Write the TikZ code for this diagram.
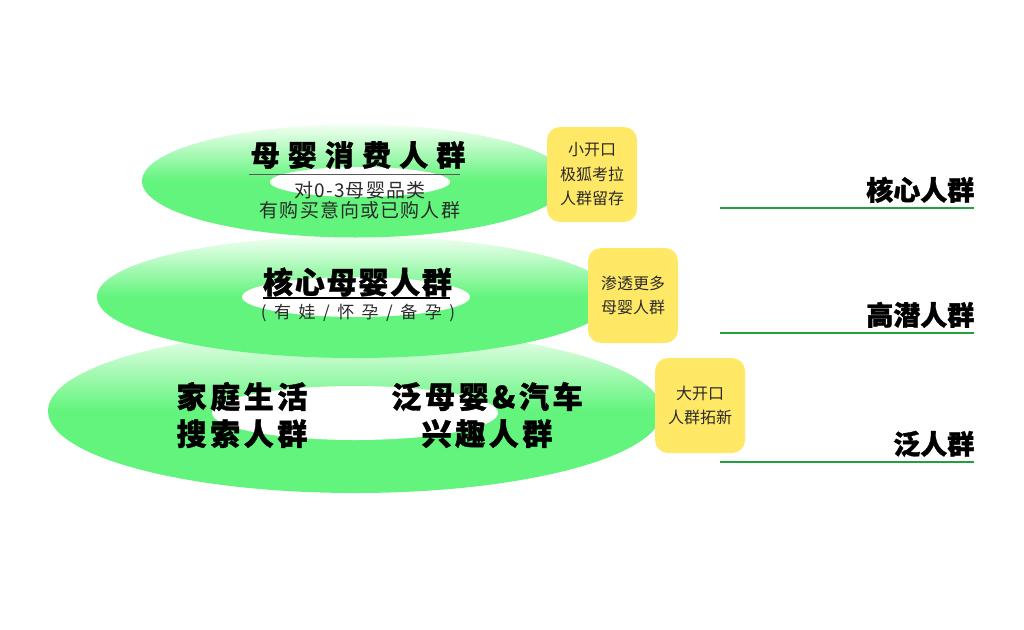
\documentclass[tikz,border=0pt]{standalone}
\usepackage{fontspec}
\setmainfont{Noto Sans CJK SC}
\usepackage{xcolor}
\usepackage{tikz}
\usetikzlibrary{shapes.geometric, positioning, calc}

\definecolor{ringgreen}{HTML}{62F47C}
\definecolor{ringpale}{HTML}{F2FFF2}
\definecolor{padyellow}{HTML}{FFE866}
\definecolor{linegreen}{HTML}{21A03F}
\definecolor{inkgray}{HTML}{2A2A2A}

\begin{document}
\begin{tikzpicture}[
    x=1pt, y=-1pt,
    ring/.style={ellipse, inner sep=0pt, top color=ringpale, bottom color=ringgreen, middle color=ringgreen},
    hole/.style={ellipse, fill=white, inner sep=0pt},
    head/.style={inner sep=0pt, font=\fontsize{30}{37}\selectfont\bfseries\addfontfeatures{LetterSpace=12, FakeBold=1.2}},
    note/.style={inner sep=0pt, text=inkgray, align=center},
    pad/.style={rounded corners=13pt, fill=padyellow, minimum width=90pt, minimum height=95pt, align=center, text=inkgray, font=\fontsize{16}{24.5}\selectfont},
    tag/.style={inner sep=0pt, font=\fontsize{27}{27}\selectfont\bfseries\addfontfeatures{FakeBold=1.2}},
    rule/.style={draw=linegreen, line width=2pt}
]
\useasboundingbox (0,0) rectangle (1024,629);

% rings, bottom one first
\node[ring, minimum width=614pt, minimum height=164pt] (r3) at (355,411) {};
\node[hole, minimum width=286pt, minimum height=54pt] (w3) at (355,413) {};
\node[ring, minimum width=516pt, minimum height=122pt] (r2) at (355,297) {};
\node[hole, minimum width=228pt, minimum height=40pt] (w2) at (356,297) {};
\node[ring, minimum width=426pt, minimum height=113pt] (r1) at (355,181) {};
\node[hole, minimum width=180pt, minimum height=30pt] (w1) at (360,182) {};

% top ring
\node[inner sep=0pt, font=\fontsize{29}{29}\selectfont\bfseries\addfontfeatures{LetterSpace=28, FakeBold=1.2}] (t1) at (358,155) {母婴消费人群};
\draw[black!65, line width=1pt] ([xshift=-2pt, yshift=-5pt]t1.south west) -- ([xshift=-6pt, yshift=-5pt]t1.south east);
\node[note, font=\fontsize{19}{20.5}\selectfont\addfontfeatures{LetterSpace=6}] (s1) at (360,200.5) {对0-3母婴品类\\有购买意向或已购人群};

% middle ring
\node[inner sep=0pt, font=\fontsize{30}{30}\selectfont\bfseries\addfontfeatures{LetterSpace=6, FakeBold=1.2}] (t2) at (357.5,282) {核心母婴人群};
\draw[black, line width=1.5pt] ([yshift=-1.5pt]t2.south west) -- ([xshift=-1.8pt, yshift=-1.5pt]t2.south east);
\node[note, font=\fontsize{17}{17}\selectfont\addfontfeatures{LetterSpace=44}] (s2) at (358,313) {(有娃/怀孕/备孕)};

% bottom ring
\node[head, align=left] (t3) at (242,415) {家庭生活\\搜索人群};
\node[head, align=center] (t4) at (487,415) {泛母婴\&汽车\\兴趣人群};

% yellow notes
\node[pad] (b1) at (592,174.5) {小开口\\极狐考拉\\人群留存};
\node[pad] (b2) at (633,295.5) {渗透更多\\母婴人群};
\node[pad] (b3) at (700,405.5) {大开口\\人群拓新};

% right side tags
\coordinate (a1) at (720,208);
\coordinate (z1) at (974,208);
\coordinate (a2) at (720,333);
\coordinate (z2) at (974,333);
\coordinate (a3) at (720,462);
\coordinate (z3) at (974,462);
\draw[rule] (a1) -- (z1);
\draw[rule] (a2) -- (z2);
\draw[rule] (a3) -- (z3);
\node[tag, above left=5pt and -0.5pt of z1] (g1) {核心人群};
\node[tag, above left=5pt and -0.5pt of z2] (g2) {高潜人群};
\node[tag, above left=5pt and -0.5pt of z3] (g3) {泛人群};

\end{tikzpicture}
\end{document}
